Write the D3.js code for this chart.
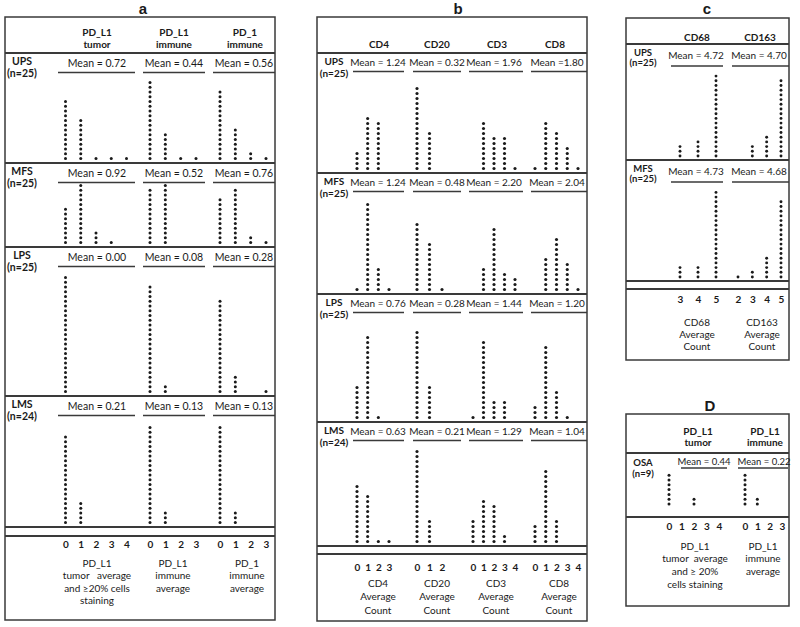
<!DOCTYPE html>
<html><head><meta charset="utf-8">
<script src="https://cdn.jsdelivr.net/npm/d3@7"></script>
<style>
body{margin:0;background:#fff}
text{font-family:Lato,'Open Sans',sans-serif;fill:#1a1a1a}
</style>
</head><body><svg id="chart" width="800" height="627"></svg>
<script>
// ---------------- DATA ----------------
// Panel a
const rowsA = ["UPS","MFS","LPS","LMS"];
const nA = [25,25,25,24];
const headersA = [["PD_L1","tumor"],["PD_L1","immune"],["PD_1","immune"]];
const ticksA = [[0,1,2,3,4],[0,1,2,3],[0,1,2,3]];
const meansA = [["0.72","0.44","0.56"],["0.92","0.52","0.76"],["0.00","0.08","0.28"],["0.21","0.13","0.13"]];
const countsA = [
  [[13,9,1,1,1],[17,6,1,1],[15,7,2,1]],
  [[8,13,3,1,0],[12,13,0,0],[10,12,2,1]],
  [[25,0,0,0,0],[23,2,0,0],[20,4,0,1]],
  [[19,5,0,0,0],[21,3,0,0],[21,3,0,0]]
];
const axisTitlesA = [["PD_L1","tumor   average","and \u226520% cells","staining"],["PD_L1","immune","average"],["PD_1","immune","average"]];

// Panel b
const rowsB = ["UPS","MFS","LPS","LMS"];
const nB = [25,25,25,24];
const headersB = [["CD4"],["CD20"],["CD3"],["CD8"]];
const ticksB = [[0,1,2,3],[0,1,2],[0,1,2,3,4],[0,1,2,3,4]];
const meansB = [["= 1.24","= 0.32","= 1.96","=1.80"],["= 1.24","= 0.48","= 2.20","= 2.04"],["= 0.76","= 0.28","= 1.44","= 1.20"],["= 0.63","= 0.21","= 1.29","= 1.04"]];
const countsB = [
  [[4,11,10,0],[17,8,0],[0,10,7,7,1],[1,10,8,5,1]],
  [[1,18,5,1],[14,10,1],[0,5,13,4,3],[0,7,11,6,1]],
  [[7,17,1,0],[18,7,0],[1,16,4,4,0],[3,15,6,1,0]],
  [[12,10,1,1],[19,5,0],[5,9,8,2,0],[4,15,5,0,0]]
];
const axisTitlesB = [["CD4","Average","Count"],["CD20","Average","Count"],["CD3","Average","Count"],["CD8","Average","Count"]];

// Panel c
const rowsC = ["UPS","MFS"];
const nC = [25,25];
const headersC = [["CD68"],["CD163"]];
const ticksC = [[3,4,5],[2,3,4,5]];
const meansC = [["4.72","4.70"],["4.73","4.68"]];
const countsC = [
  [[3,4,18],[0,3,5,17]],
  [[3,3,19],[1,2,5,17]]
];
const axisTitlesC = [["CD68","Average","Count"],["CD163","Average","Count"]];

// Panel D
const rowsD = ["OSA"];
const nD = [9];
const headersD = [["PD_L1","tumor"],["PD_L1","immune"]];
const ticksD = [[0,1,2,3,4],[0,1,2,3]];
const meansD = [["0.44","0.22"]];
const countsD = [[[7,0,2,0,0],[7,2,0,0]]];
const axisTitlesD = [["PD_L1","tumor  average","and \u2265 20%","cells staining"],["PD_L1","immune","average"]];

// ---------------- LAYOUT ----------------
const svg = d3.select("#chart");
const INK = "#1a1a1a", LINE = "#3a3a3a";

function drawPanel(L, D) {
  const g = svg.append("g");
  g.append("text").attr("x", L.title[1]).attr("y", L.title[2]).attr("text-anchor","middle")
    .attr("dominant-baseline","middle").style("font-family","'Liberation Sans',Arial,sans-serif")
    .style("font-size","15px").style("font-weight","bold").text(L.title[0]);
  g.append("rect").attr("x", L.box[0]).attr("y", L.box[1]).attr("width", L.box[2]-L.box[0])
    .attr("height", L.box[3]-L.box[1]).attr("fill","none").attr("stroke", LINE).attr("stroke-width",1.5);
  D.headers.forEach((h, c) => {
    h.forEach((line, i) => {
      g.append("text").attr("x", L.centers[c]).attr("y", L.headerY[i])
        .attr("text-anchor","middle").attr("dominant-baseline","middle")
        .style("font-size","10px").style("font-weight","bold").text(line);
    });
  });
  const hline = (y, w) => g.append("line").attr("x1", L.box[0]).attr("x2", L.box[2]).attr("y1", y).attr("y2", y)
      .attr("stroke", LINE).attr("stroke-width", w || 2);
  hline(L.headerLine);
  const xs = D.ticks.map((t, c) => d3.scaleLinear().domain([t[0], t[t.length-1]]).range(L.xRanges[c]));
  D.rows.forEach((r, ri) => {
    const top = L.rowTops[ri], bottom = L.rowTops[ri+1];
    if (ri > 0) hline(top);
    g.append("text").attr("x", L.labelX).attr("y", top + L.labelDy[0]).attr("text-anchor","middle")
      .attr("dominant-baseline","middle").style("font-size", L.labelSize).style("font-weight","bold").text(r);
    g.append("text").attr("x", L.labelX).attr("y", top + L.labelDy[1]).attr("text-anchor","middle")
      .attr("dominant-baseline","middle").style("font-size", L.labelSize).style("font-weight","bold").text("(n=" + D.n[ri] + ")");
    const y = d3.scaleLinear().domain([0, 1]).range([bottom - L.dotGap, bottom - L.dotGap - L.spacing]);
    D.means[ri].forEach((m, c) => {
      const txt = m.startsWith("=") ? "Mean " + m : "Mean = " + m;
      g.append("text").attr("x", L.meanCenters[c]).attr("y", top + L.meanDy).attr("text-anchor","middle")
        .attr("dominant-baseline","middle").style("font-size", L.meanSize).text(txt);
      g.append("line").attr("x1", L.underlines[c][0]).attr("x2", L.underlines[c][1])
        .attr("y1", top + L.underDy).attr("y2", top + L.underDy).attr("stroke", LINE).attr("stroke-width",1.5);
      D.counts[ri][c].forEach((cnt, k) => {
        const v = D.ticks[c][k];
        g.selectAll(null).data(d3.range(cnt)).enter().append("circle")
          .attr("cx", xs[c](v)).attr("cy", i => y(i)).attr("r", L.r).attr("fill", INK);
      });
    });
  });
  hline(L.rowTops[D.rows.length]);
  if (L.secondLine) hline(L.secondLine);
  D.ticks.forEach((t, c) => {
    const ax = g.append("g").attr("transform", `translate(0,${L.tickY})`)
      .call(d3.axisBottom(xs[c]).tickValues(t).tickSize(0).tickFormat(d3.format("d")));
    ax.select(".domain").remove();
    ax.selectAll("text").attr("y", 0).attr("dy","0.35em").style("font-family","Lato,'Open Sans',sans-serif")
      .style("font-size","10px").style("font-weight","bold").attr("fill", INK);
    D.axisTitles[c].forEach((line, i) => {
      g.append("text").attr("x", L.titleCenters[c]).attr("y", L.axisTitleY + i * L.axisTitleDy)
        .attr("text-anchor","middle").attr("dominant-baseline","middle").style("font-size","10px")
        .attr("xml:space","preserve").style("white-space","pre").text(line);
    });
  });
}

drawPanel({
  title:["a",143,10], box:[5,17,275,620], headerY:[33,45], headerLine:53,
  centers:[97,174,245], rowTops:[53,163,247,396,527], secondLine:536,
  labelX:22, labelDy:[9,21], labelSize:"10.5px", meanCenters:[97,174,244], meanDy:11.5, underDy:19.5, meanSize:"10.5px",
  underlines:[[58,135],[143,205],[213,275]],
  xRanges:[[65.5,126.5],[150,196],[220,266]], spacing:4.75, dotGap:4.5, r:1.5,
  tickY:544, axisTitleY:564.5, axisTitleDy:12.3, titleCenters:[97,173,247]
}, {rows:rowsA, n:nA, headers:headersA, ticks:ticksA, means:meansA, counts:countsA, axisTitles:axisTitlesA});

drawPanel({
  title:["b",458,10], box:[317,17,587,621], headerY:[45], headerLine:53,
  centers:[379,437,497,555], rowTops:[53,173,294,422,546], secondLine:554,
  labelX:334, labelDy:[9,21], labelSize:"10px", meanCenters:[378,437,494,557], meanDy:10, underDy:18.5, meanSize:"10px",
  underlines:[[353,404],[413,461],[469,523],[531,587]],
  xRanges:[[357,389],[417,442],[473,515],[535,578]], spacing:5, dotGap:4.5, r:1.55,
  tickY:567, axisTitleY:584, axisTitleDy:13.5, titleCenters:[378,437,496,559]
}, {rows:rowsB, n:nB, headers:headersB, ticks:ticksB, means:meansB, counts:countsB, axisTitles:axisTitlesB});

drawPanel({
  title:["c",707,10], box:[626,18,789,360], headerY:[38], headerLine:44,
  centers:[697,760], rowTops:[44,160,281], secondLine:289,
  labelX:643, labelDy:[10,20], labelSize:"9.5px", meanCenters:[696,759], meanDy:12.5, underDy:22, meanSize:"10px",
  underlines:[[671,723],[732,789]],
  xRanges:[[680,716],[738,781]], spacing:4.7, dotGap:4, r:1.45,
  tickY:299, axisTitleY:323, axisTitleDy:12, titleCenters:[697,762]
}, {rows:rowsC, n:nC, headers:headersC, ticks:ticksC, means:meansC, counts:countsC, axisTitles:axisTitlesC});

drawPanel({
  title:["D",710,407], box:[626,414,789,606], headerY:[432,443], headerLine:453,
  centers:[698,765], rowTops:[453,517], secondLine:null,
  labelX:643, labelDy:[11,22], labelSize:"9.5px", meanCenters:[704,764], meanDy:9.5, underDy:15, meanSize:"9.5px",
  underlines:[[681,727],[738,788]],
  xRanges:[[669,719],[745,782]], spacing:4.8, dotGap:13, r:1.5,
  tickY:526, axisTitleY:547, axisTitleDy:12.7, titleCenters:[695,763]
}, {rows:rowsD, n:nD, headers:headersD, ticks:ticksD, means:meansD, counts:countsD, axisTitles:axisTitlesD});
</script></body></html>
